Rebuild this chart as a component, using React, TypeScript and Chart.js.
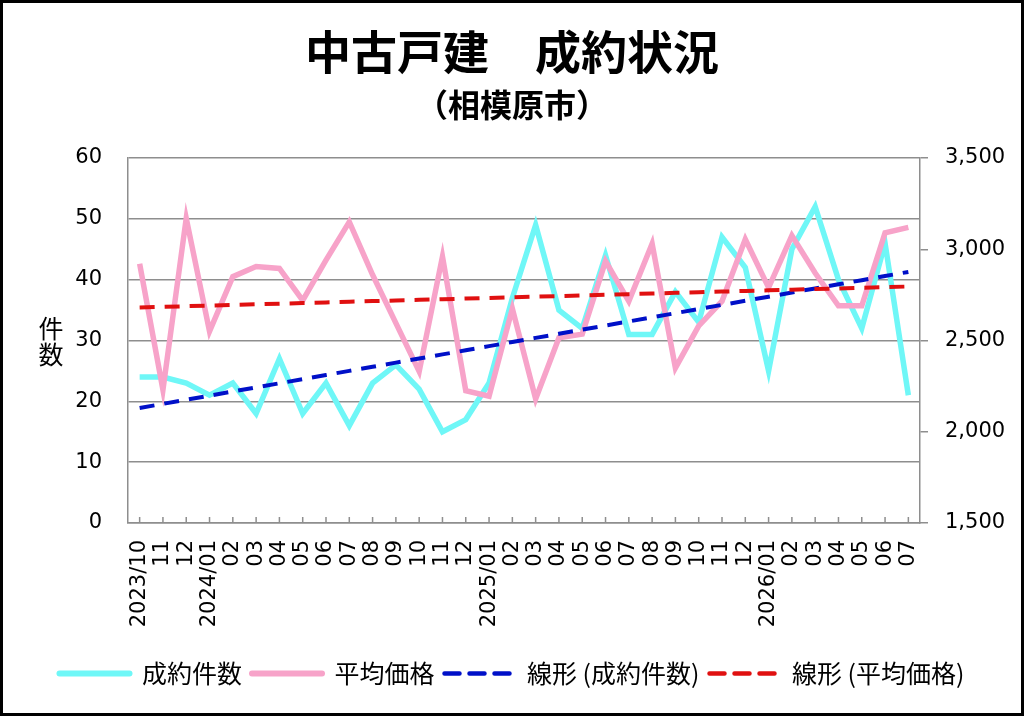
import React, { useEffect, useRef } from "react";
import { Chart, registerables } from "chart.js";

Chart.register(...registerables);

const MONTHS = [
  "2023/10", "11", "12",
  "2024/01", "02", "03", "04", "05", "06", "07", "08", "09", "10", "11", "12",
  "2025/01", "02", "03", "04", "05", "06", "07", "08", "09", "10", "11", "12",
  "2026/01", "02", "03", "04", "05", "06", "07",
];

// 成約件数 (left axis)
const CONTRACTS = [
  24, 24, 23, 21, 23, 18, 27, 18, 23, 16, 23, 26, 22, 15, 17,
  23, 37, 49, 35, 32, 44, 31, 31, 38, 33, 47, 42,
  25, 45, 52, 40, 32, 46, 21,
];

// 平均価格 (right axis)
const AVG_PRICE = [
  2920, 2230, 3170, 2550, 2850, 2905, 2895, 2720, 2940, 3150, 2860, 2595, 2330, 2960, 2225,
  2195, 2675, 2180, 2515, 2535, 2935, 2715, 3030, 2350, 2580, 2715, 3055,
  2790, 3075, 2870, 2690, 2690, 3090, 3120,
];

const SERIES_NAMES = ["成約件数", "平均価格", "線形 (成約件数)", "線形 (平均価格)"];

const JP_FONT = "'Noto Sans CJK JP', 'Noto Sans', sans-serif";
const NUM_FONT = "'DejaVu Sans', sans-serif";
const GRID = "#8e8e8e";

// least squares fit, same as the spreadsheet's linear trendline
function trend(values: number[]) {
  const n = values.length;
  let sx = 0, sy = 0, sxy = 0, sxx = 0;
  values.forEach((v, i) => {
    sx += i; sy += v; sxy += i * v; sxx += i * i;
  });
  const slope = (n * sxy - sx * sy) / (n * sxx - sx * sx);
  const icpt = (sy - slope * sx) / n;
  return values.map((_, i) => icpt + slope * i);
}

const decor = {
  id: "decor",
  beforeDatasetsDraw(chart: any) {
    const { ctx, chartArea, scales } = chart;
    const x = scales.x;
    ctx.save();
    ctx.strokeStyle = GRID;
    ctx.lineWidth = 1.5;
    ctx.beginPath();
    x.ticks.forEach((_: any, i: number) => {
      const px = x.getPixelForTick(i);
      ctx.moveTo(px, chartArea.bottom - 6);
      ctx.lineTo(px, chartArea.bottom);
    });
    ctx.stroke();
    ctx.restore();
  },
  afterDraw(chart: any) {
    const ctx = chart.ctx;
    ctx.save();
    ctx.fillStyle = "#000";
    ctx.font = `25px ${JP_FONT}`;
    ctx.textAlign = "center";
    ctx.textBaseline = "middle";
    ctx.fillText("件", 51, 328);
    ctx.fillText("数", 51, 354);
    ctx.restore();
  },
};

export default function App() {
  const canvasRef = useRef<HTMLCanvasElement>(null);

  useEffect(() => {
    if (!canvasRef.current) return;

    const chart = new Chart(canvasRef.current, {
      type: "line",
      data: {
        labels: MONTHS,
        datasets: [
          {
            label: SERIES_NAMES[0],
            data: CONTRACTS,
            yAxisID: "y",
            borderColor: "#6ff7f7",
            borderWidth: 5.5,
            pointRadius: 0,
            tension: 0,
            order: 4,
          },
          {
            label: SERIES_NAMES[1],
            data: AVG_PRICE,
            yAxisID: "y2",
            borderColor: "#f7a3c9",
            borderWidth: 5.5,
            pointRadius: 0,
            tension: 0,
            order: 3,
          },
          {
            label: SERIES_NAMES[2],
            data: trend(CONTRACTS),
            yAxisID: "y",
            borderColor: "#0010c8",
            borderWidth: 4,
            borderDash: [15, 10],
            pointRadius: 0,
            order: 2,
          },
          {
            label: SERIES_NAMES[3],
            data: trend(AVG_PRICE),
            yAxisID: "y2",
            borderColor: "#e01010",
            borderWidth: 4,
            borderDash: [15, 10],
            pointRadius: 0,
            order: 1,
          },
        ],
      },
      options: {
        animation: false,
        responsive: true,
        maintainAspectRatio: false,
        locale: "en-US",
        layout: { padding: { left: 0, right: 0, top: 0, bottom: 20 } },
        plugins: {
          title: {
            display: true,
            text: "中古戸建　成約状況",
            color: "#000",
            font: { family: JP_FONT, size: 46, weight: "bold", lineHeight: 1.2 },
            padding: { top: 24, bottom: 0 },
          },
          subtitle: {
            display: true,
            text: "（相模原市）",
            color: "#000",
            font: { family: JP_FONT, size: 32, weight: "bold", lineHeight: 1.2 },
            padding: { top: 6.6, bottom: 33.8 },
          },
          legend: {
            position: "bottom",
            labels: {
              usePointStyle: true,
              pointStyle: "line",
              pointStyleWidth: 70,
              boxHeight: 10,
              padding: 10,
              color: "#000",
              font: { family: JP_FONT, size: 25 },
              generateLabels: (c: any) =>
                c.data.datasets.map((ds: any, i: number) => ({
                  text: ds.label,
                  strokeStyle: ds.borderColor,
                  fillStyle: ds.borderColor,
                  lineWidth: ds.borderDash ? 4.5 : 6,
                  lineDash: ds.borderDash || [],
                  lineCap: "round",
                  pointStyle: "line",
                  fontColor: "#000",
                  hidden: false,
                  datasetIndex: i,
                })),
            },
          },
          tooltip: { enabled: false },
        },
        scales: {
          x: {
            offset: true,
            grid: { display: false, drawTicks: false },
            border: { display: true, color: GRID, width: 1.5 },
            ticks: {
              autoSkip: false,
              minRotation: 90,
              maxRotation: 90,
              padding: 17,
              color: "#000",
              font: { family: NUM_FONT, size: 21 },
            },
            afterFit: (s: any) => {
              s.height = 128;
            },
          },
          y: {
            position: "left",
            min: 0,
            max: 60,
            ticks: {
              stepSize: 10,
              padding: 26,
              color: "#000",
              font: { family: NUM_FONT, size: 21 },
            },
            grid: { color: GRID, lineWidth: 1.5, drawTicks: false },
            border: { color: GRID, width: 1.5 },
            afterFit: (s: any) => {
              s.width = 128;
            },
          },
          y2: {
            position: "right",
            min: 1500,
            max: 3500,
            ticks: {
              stepSize: 500,
              padding: 17,
              color: "#000",
              font: { family: NUM_FONT, size: 21 },
              callback: (v: any) => Number(v).toLocaleString("en-US"),
            },
            grid: {
              drawOnChartArea: false,
              drawTicks: true,
              tickLength: 8,
              color: GRID,
              lineWidth: 1.5,
            },
            border: { color: GRID, width: 1.5 },
            afterFit: (s: any) => {
              s.width = 104;
            },
          },
        },
      },
      plugins: [decor],
    });

    return () => chart.destroy();
  }, []);

  return (
    <div
      style={{
        position: "fixed",
        left: 0,
        top: 0,
        width: 1024,
        height: 716,
        background: "#fff",
      }}
    >
      <canvas ref={canvasRef} />
      <div
        style={{
          position: "absolute",
          inset: 0,
          border: "3px solid #000",
          pointerEvents: "none",
        }}
      />
    </div>
  );
}
